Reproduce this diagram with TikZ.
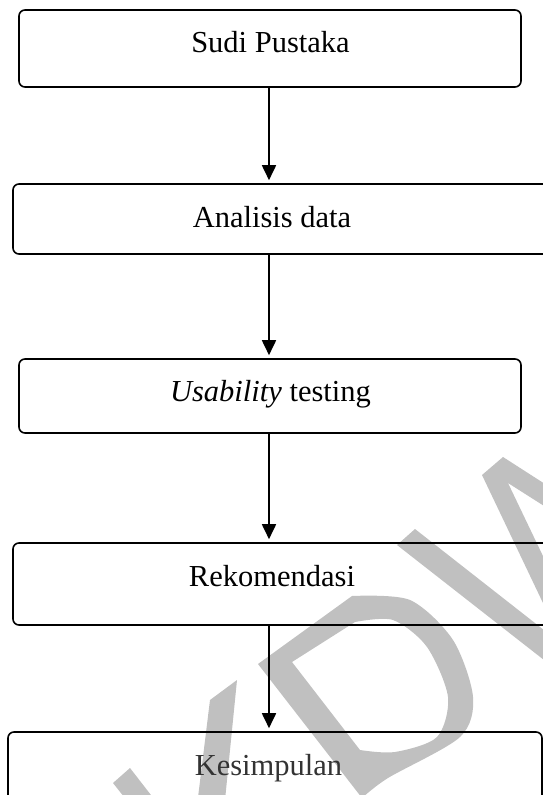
\documentclass[tikz,border=0pt]{standalone}
\usepackage{fontspec}
\setmainfont{Liberation Serif}
\usetikzlibrary{arrows.meta}
\definecolor{wm}{RGB}{192,192,192}
\begin{document}
\begin{tikzpicture}[x=1pt,y=-1pt,
  box/.style={draw, line width=1.6pt, rounded corners=6pt, inner sep=0pt},
  lbl/.style={anchor=base, inner sep=0pt, font=\fontsize{30.5}{36}\selectfont},
  arr/.style={line width=1.8pt, -{Triangle[length=15pt,width=14pt]}, shorten >=3pt}]
\useasboundingbox (0,0) rectangle (543,795);
% watermark
\fill[wm] (113,783) -- (130,768) -- (175,826) -- (158,840) -- cycle;
\fill[wm] (210,700) -- (237,680) -- (222,830) -- (194,830) -- cycle;
\fill[wm, even odd rule] (258,664) -- plot[smooth] coordinates {(352,596) (410,600) (453,640) (473,697) (460,737) (388,778) (362,798)} -- cycle
  (292,662) -- plot[smooth] coordinates {(355,622) (393,620) (427,647) (448,697) (437,737) (395,752) (360,750)} -- cycle;
\fill[wm] (397,545) -- (415,529) -- (563,645) -- (482,475) -- (503,457) -- (640,545) -- (640,567) -- (508,483) -- (622,721) -- cycle;
% boxes
\node[box, minimum width=502pt, minimum height=77pt] (b1) at (270,48.5) {};
\node[box, minimum width=547pt, minimum height=70pt] (b2) at (286.5,219) {};
\node[box, minimum width=502pt, minimum height=74pt] (b3) at (270,396) {};
\node[box, minimum width=547pt, minimum height=82pt] (b4) at (286.5,584) {};
\node[box, minimum width=534pt, minimum height=88pt] (b5) at (275,776) {};
% labels
\node[lbl] (t1) at (270.5,52) {Sudi Pustaka};
\node[lbl] (t2) at (272,227) {Analisis data};
\node[lbl] (t3) at (270.5,401) {\textit{Usability} testing};
\node[lbl] (t4) at (272,586) {Rekomendasi};
\node[lbl, text=black!80] (t5) at (268.5,775) {Kesimpulan};
% arrows
\coordinate (ax) at (269,0);
\draw[arr] (b1.south -| ax) -- (b2.north -| ax);
\draw[arr] (b2.south -| ax) -- (b3.north -| ax);
\draw[arr] (b3.south -| ax) -- (b4.north -| ax);
\draw[arr] (b4.south -| ax) -- (b5.north -| ax);
\end{tikzpicture}
\end{document}
